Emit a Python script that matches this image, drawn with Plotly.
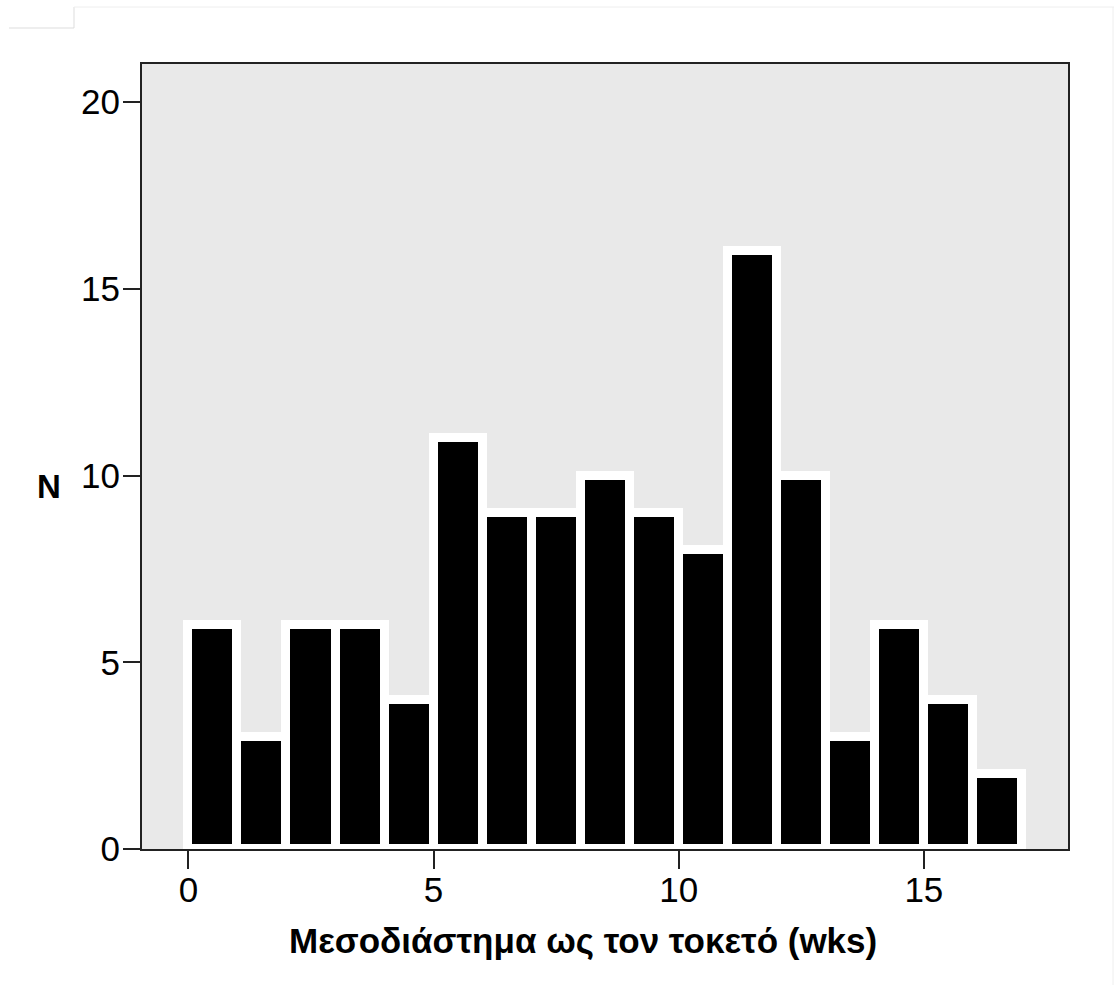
import plotly.graph_objects as go

bin_starts = list(range(0, 17))
counts = [6, 3, 6, 6, 4, 11, 9, 9, 10, 9, 8, 16, 10, 3, 6, 4, 2]
x_ticks = [0, 5, 10, 15]
y_ticks = [0, 5, 10, 15, 20]
x_title = "Μεσοδιάστημα ως τον τοκετό (wks)"
y_title = "N"

centers = [b + 0.5 for b in bin_starts]

fig = go.Figure(go.Bar(
    x=centers, y=counts, width=[1] * len(counts),
    marker=dict(color="black", line=dict(color="white", width=9)),
    hoverinfo="x+y",
))

W, H = 1116, 985
L, R, T, B = 142, 48, 64, 136

font = "Liberation Sans, Arial, sans-serif"
fig.update_layout(
    width=W, height=H,
    margin=dict(l=L, r=R, t=T, b=B, pad=0),
    paper_bgcolor="white", plot_bgcolor="#e9e9e9",
    bargap=0, showlegend=False,
    font=dict(family=font, color="black", size=30),
    xaxis=dict(
        range=[-0.947, 17.94], tickvals=x_ticks, ticks="outside", ticklen=18,
        tickwidth=2, tickcolor="#222", showline=True, linecolor="#222", linewidth=2,
        mirror=True, showgrid=False, zeroline=False, ticklabelstandoff=-9,
        tickfont=dict(size=35),
    ),
    yaxis=dict(
        range=[0, 21.02], tickvals=y_ticks, ticks="outside", ticklen=17,
        tickwidth=2, tickcolor="#222", showline=True, linecolor="#222", linewidth=2,
        mirror=True, showgrid=False, zeroline=False, ticklabelstandoff=-4,
        tickfont=dict(size=35),
    ),
)


def px(xp):
    return (xp - L) / (W - L - R)


def py(yp):
    return 1 - (yp - T) / (H - T - B)


fig.add_annotation(text="<b>" + x_title + "</b>", xref="paper", yref="paper",
                   x=px(583), y=py(940), showarrow=False, xanchor="center", yanchor="middle",
                   font=dict(size=35))
fig.add_annotation(text="<b>" + y_title + "</b>", xref="paper", yref="paper",
                   x=px(49), y=py(486), showarrow=False, xanchor="center", yanchor="middle",
                   font=dict(size=33))

# faint page-border artifacts in the reference
shapes = [
    dict(type="line", xref="paper", yref="paper", x0=px(9), x1=px(74), y0=py(28), y1=py(28),
         line=dict(color="#dddddd", width=1)),
    dict(type="line", xref="paper", yref="paper", x0=px(74), x1=px(74), y0=py(7), y1=py(28),
         line=dict(color="#dddddd", width=1)),
    dict(type="line", xref="paper", yref="paper", x0=px(74), x1=px(1114), y0=py(7), y1=py(7),
         line=dict(color="#eeeeee", width=1)),
    dict(type="line", xref="paper", yref="paper", x0=px(1113), x1=px(1113), y0=py(7), y1=py(985),
         line=dict(color="#eeeeee", width=1)),
]
fig.update_layout(shapes=shapes)

fig.write_html("out.html")
